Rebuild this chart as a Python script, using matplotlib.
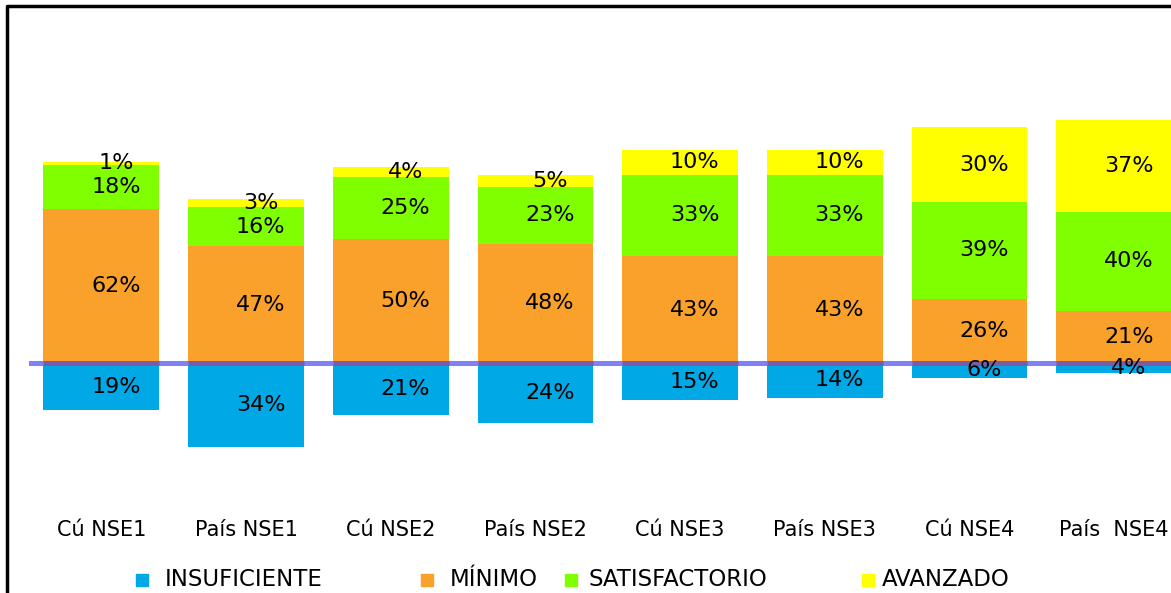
import matplotlib
matplotlib.use('Agg')
import matplotlib.pyplot as plt
import matplotlib.transforms as mtransforms
from matplotlib.patches import Rectangle
from matplotlib.lines import Line2D
import numpy as np

# Data
categories = ['Cú NSE1', 'País NSE1', 'Cú NSE2', 'País NSE2',
              'Cú NSE3', 'País NSE3', 'Cú NSE4', 'País  NSE4']
insuficiente = [19, 34, 21, 24, 15, 14, 6, 4]
minimo = [62, 47, 50, 48, 43, 43, 26, 21]
satisfactorio = [18, 16, 25, 23, 33, 33, 39, 40]
avanzado = [1, 3, 4, 5, 10, 10, 30, 37]

level_names = ['INSUFICIENTE', 'MÍNIMO', 'SATISFACTORIO', 'AVANZADO']
colors = ['#00A8E6', '#F9A12A', '#80FF00', '#FFFF00']

plt.rcParams['font.family'] = ['DejaVu Sans']

W, H = 1171, 593
fig = plt.figure(figsize=(W / 100, H / 100), dpi=100)
ax = fig.add_axes([29 / W, (H - 480) / H, (W - 29) / W, 450 / H])

x = np.arange(len(categories))
bw = 0.80

# negative side
ax.bar(x, -np.array(insuficiente), bw, color=colors[0], zorder=2)
# positive stack
bottom = np.zeros(len(categories))
for vals, c in zip([minimo, satisfactorio, avanzado], colors[1:]):
    ax.bar(x, vals, bw, bottom=bottom, color=c, zorder=2)
    for xi, b, v in zip(x, bottom, vals):
        ax.text(xi + 0.1, b + v / 2, f'{v}%', ha='center', va='center',
                fontsize=16, color='black', zorder=5)
    bottom += np.array(vals)

for xi, v in zip(x, insuficiente):
    ax.text(xi + 0.1, -v / 2, f'{v}%', ha='center', va='center',
            fontsize=16, color='black', zorder=5)

# zero line, darker where it crosses the bars
ax.axhline(0, color='#8080F8', lw=3.6, zorder=3)
ax.hlines(np.zeros(len(x)), x - bw / 2, x + bw / 2, color='#7A5CA6',
          lw=3.6, zorder=4)

ax.set_xlim(-0.5, (W - 29) / 144.7 - 0.5)
ax.set_ylim(-(480 - 363) / 2.48, (363 - 30) / 2.48)
ax.axis('off')

# category labels under the plot
trans = mtransforms.blended_transform_factory(ax.transData, fig.transFigure)
for xi, lab in zip(x, categories):
    ax.text(xi, 1 - 530 / H, lab, transform=trans, ha='center', va='center',
            fontsize=15, color='black', clip_on=False)

# legend
leg_sq = [136, 421, 565, 862]
leg_tx = [165, 450, 588, 882]
for sx, tx, c, name in zip(leg_sq, leg_tx, colors, level_names):
    fig.add_artist(Rectangle((sx / W, 1 - 586 / H), 12 / W, 12 / H,
                             transform=fig.transFigure, color=c))
    fig.text(tx / W, 1 - 580 / H, name, ha='left', va='center',
             fontsize=16.5, color='black')

# frame (left and top edges visible)
fig.add_artist(Line2D([7 / W, 7 / W, 1.0], [0, 1 - 6 / H, 1 - 6 / H],
                      transform=fig.transFigure, color='black', lw=2.5))

fig.savefig('out.png', dpi=100, facecolor='white')
